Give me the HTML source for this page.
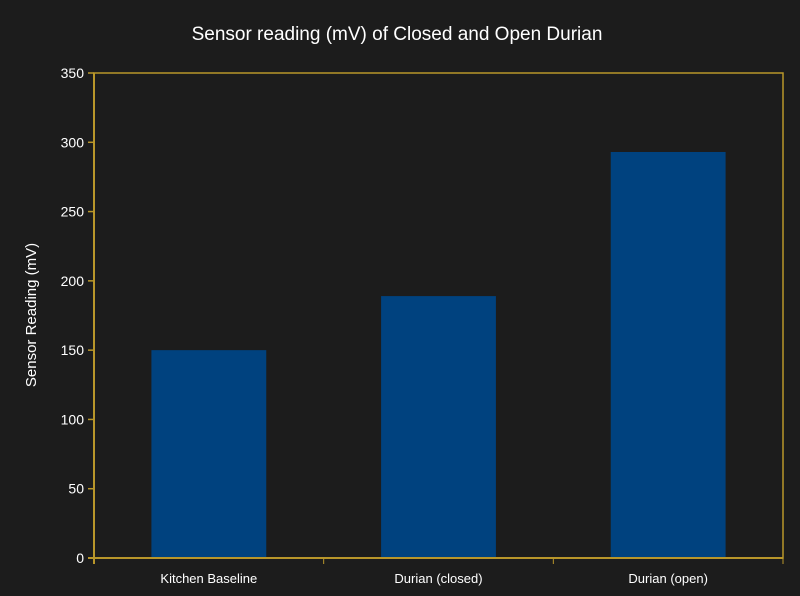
<!DOCTYPE html>
<html><head><meta charset="utf-8"><style>
body{margin:0;background:#1c1c1c;}
svg{display:block;font-family:"Liberation Sans",sans-serif;}
</style></head><body>
<svg width="800" height="596">
<rect width="800" height="596" fill="#1c1c1c"/>
<text x="397" y="40" fill="#ffffff" font-size="19" text-anchor="middle">Sensor reading (mV) of Closed and Open Durian</text>
<text transform="translate(36,315) rotate(-90)" fill="#ffffff" font-size="15" text-anchor="middle">Sensor Reading (mV)</text>
<g id="plot"></g>
</svg>
<script>
const categories=["Kitchen Baseline","Durian (closed)","Durian (open)"];
const values=[150,189,293];
const yTicks=[0,50,100,150,200,250,300,350];
const L=94,R=783,T=73,B=558,yMax=350;
const ns="http://www.w3.org/2000/svg";
const g=document.getElementById('plot');
const y=v=>B-(v/yMax)*(B-T);
const bw=(R-L)/categories.length;
function mk(t,a){const e=document.createElementNS(ns,t);for(const k in a)e.setAttribute(k,a[k]);g.appendChild(e);return e;}
values.forEach((v,i)=>{
 const r=mk('rect',{x:L+bw*i+bw/4,y:y(v),width:bw/2,height:B-y(v),fill:'#00427f'});
 
 
 const t=mk('text',{x:L+bw*i+bw/2,y:B+25,fill:'#ffffff','font-size':13,'text-anchor':'middle'});
 t.textContent=categories[i];
 
 
});
for(let i=0;i<=categories.length;i++){
 const l=mk('line',{x1:L+bw*i,x2:L+bw*i,y1:B,y2:B+6,stroke:'#b8962a','stroke-width':1});
 
 
}
yTicks.forEach(v=>{
 const l=mk('line',{x1:L-6,x2:L,y1:y(v),y2:y(v),stroke:'#b8962a','stroke-width':1.5});
 
 
 const t=mk('text',{x:L-10,y:y(v)+5,fill:'#ffffff','font-size':14,'text-anchor':'end'});
 t.textContent=v;
 
 
});
const f=mk('rect',{x:L,y:T,width:R-L,height:B-T,fill:'none',stroke:'#b8962a','stroke-width':1.5});


const ax=mk('line',{x1:L-6,x2:R,y1:B,y2:B,stroke:'#b8962a','stroke-width':2});


const ay=mk('line',{x1:L,x2:L,y1:T,y2:B+6,stroke:'#b8962a','stroke-width':2});


</script>
</body></html>
